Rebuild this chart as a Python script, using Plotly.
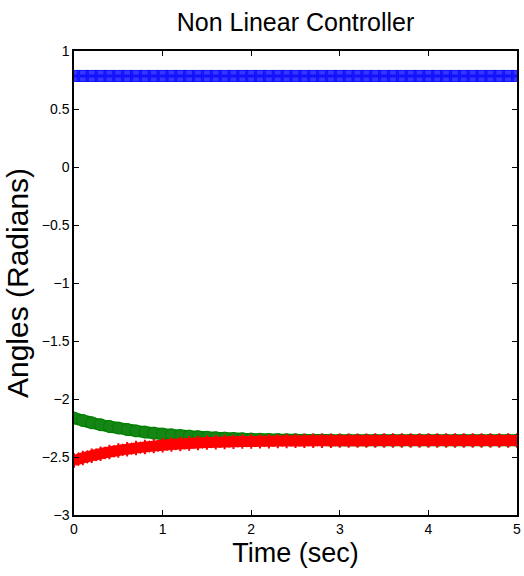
import plotly.graph_objects as go

# Time samples (sec)
time = [round(i * 0.1, 1) for i in range(51)]

# Angle 1 (blue) - constant
angle_blue = [0.785] * 51

# Angle 2 (green) - decays from -2.16 towards -2.356
angle_green = [-2.164, -2.185, -2.205, -2.222, -2.237, -2.250, -2.263, -2.275, -2.285, -2.294,
               -2.302, -2.309, -2.315, -2.320, -2.325, -2.330, -2.334, -2.337, -2.340, -2.343,
               -2.345, -2.347, -2.349, -2.350, -2.351, -2.352, -2.353, -2.354, -2.354, -2.355,
               -2.355, -2.355, -2.356, -2.356, -2.356, -2.356, -2.356, -2.356, -2.356, -2.356,
               -2.356, -2.356, -2.356, -2.356, -2.356, -2.356, -2.356, -2.356, -2.356, -2.356,
               -2.356]

# Angle 3 (red) - rises from -2.53 towards -2.358
angle_red = [-2.530, -2.508, -2.489, -2.472, -2.457, -2.444, -2.433, -2.423, -2.414, -2.406,
             -2.399, -2.393, -2.388, -2.383, -2.379, -2.376, -2.373, -2.371, -2.369, -2.367,
             -2.366, -2.365, -2.364, -2.363, -2.362, -2.361, -2.361, -2.360, -2.360, -2.360,
             -2.359, -2.359, -2.359, -2.359, -2.358, -2.358, -2.358, -2.358, -2.358, -2.358,
             -2.358, -2.358, -2.358, -2.358, -2.358, -2.358, -2.358, -2.358, -2.358, -2.358,
             -2.358]

x_ticks = [0, 1, 2, 3, 4, 5]
y_ticks = [-3, -2.5, -2, -1.5, -1, -0.5, 0, 0.5, 1]
y_tick_labels = ["\u22123", "\u22122.5", "\u22122", "\u22121.5", "\u22121", "\u22120.5", "0", "0.5", "1"]

FONT = "Liberation Sans, Arial, sans-serif"

fig = go.Figure()
fig.add_trace(go.Scatter(
    x=time, y=angle_blue, mode="lines+markers",
    line=dict(color="#0000ff", width=3),
    marker=dict(symbol="square", size=11, color="rgba(20,20,255,0.85)",
                line=dict(color="#1010ff", width=1)),
    showlegend=False))
fig.add_trace(go.Scatter(
    x=time, y=angle_green, mode="lines+markers",
    line=dict(color="#008000", width=12, shape="spline"),
    marker=dict(symbol="circle", size=12, color="#158515",
                line=dict(color="#008000", width=1)),
    showlegend=False))
fig.add_trace(go.Scatter(
    x=time, y=angle_red, mode="lines+markers",
    line=dict(color="#ff0000", width=11, shape="spline"),
    marker=dict(symbol="asterisk-open", size=12,
                line=dict(color="#ff0000", width=2)),
    showlegend=False))

fig.update_layout(
    width=524, height=576,
    margin=dict(l=74, r=3, t=51, b=61),
    paper_bgcolor="white", plot_bgcolor="white",
    font=dict(family=FONT, color="black"),
    title=dict(text="Non Linear Controller", x=0.5, xanchor="center",
               xref="paper", y=0.962, yanchor="middle",
               font=dict(size=25, family=FONT, color="black")),
)
fig.update_xaxes(
    range=[0, 5], tickvals=x_ticks, ticktext=[str(v) for v in x_ticks],
    ticks="inside", ticklen=5, tickwidth=1, tickcolor="black",
    showline=True, linecolor="black", linewidth=1.5, mirror="ticks",
    showgrid=False, zeroline=False,
    tickfont=dict(size=14, family=FONT),
    title=dict(text="Time (sec)", font=dict(size=27, family=FONT), standoff=8),
)
fig.update_yaxes(
    range=[-3, 1], tickvals=y_ticks, ticktext=y_tick_labels,
    ticks="inside", ticklen=5, tickwidth=1, tickcolor="black",
    showline=True, linecolor="black", linewidth=1.5, mirror="ticks",
    showgrid=False, zeroline=False,
    tickfont=dict(size=14, family=FONT),
    title=dict(text="Angles (Radians)", font=dict(size=30, family=FONT), standoff=4),
)

fig.write_html("out.html")
